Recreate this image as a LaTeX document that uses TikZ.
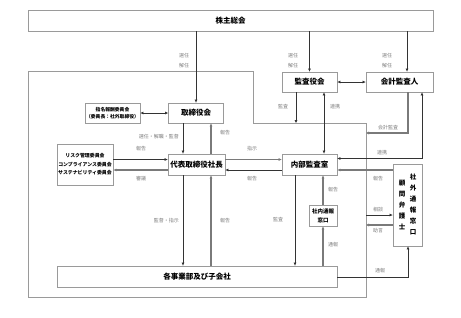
\documentclass[tikz,border=0pt]{standalone}
\usepackage{fontspec}
\setmainfont{Noto Sans CJK JP}
\usetikzlibrary{arrows.meta}
\definecolor{boxc}{HTML}{9A9A9A}
\definecolor{dark}{HTML}{333333}
\definecolor{grayl}{HTML}{7A7A7A}
\definecolor{lab}{HTML}{808080}
\tikzset{
  box/.style={draw=boxc, line width=0.8pt, fill=white, inner sep=0pt, font=\bfseries\fontsize{7.5}{9}\selectfont},
  sbox/.style={box, font=\bfseries\fontsize{4.8}{7}\selectfont, align=center},
  arr/.style={draw=dark, line width=0.8pt, -{Triangle[length=3pt,width=2.6pt]}},
  darr/.style={draw=dark, line width=0.8pt, {Triangle[length=3pt,width=2.6pt]}-{Triangle[length=3pt,width=2.6pt]}},
  garr/.style={draw=grayl, line width=1.1pt, -{Triangle[length=3pt,width=2.6pt]}},
  lbl/.style={text=lab, font=\fontsize{5}{6}\selectfont, inner sep=0pt},
}
\begin{document}
\begin{tikzpicture}[x=1pt,y=-1pt]
\useasboundingbox (0,0) rectangle (461,317);
\fill[white] (0,0) rectangle (461,317);
% executive frame
\draw[boxc, line width=0.8pt] (28,71) -- (253,71) -- (253,123) -- (366,123) -- (366,297) -- (28,297) -- cycle;
\coordinate (fr) at (366,123);
% nodes
\node[box, minimum width=405pt, minimum height=21pt] (kabu) at (230.5,20.5) {株主総会};
\node[box, minimum width=55pt, minimum height=20pt] (kansa) at (309.5,82) {監査役会};
\node[box, minimum width=67pt, minimum height=20pt] (kaikei) at (399.5,82) {会計監査人};
\node[box, minimum width=55pt, minimum height=20pt] (tori) at (196,113) {取締役会};
\node[sbox, minimum width=55pt, minimum height=20pt] (shimei) at (112.5,113) {指名報酬委員会\\（委員長：社外取締役）};
\node[box, minimum width=57pt, minimum height=21pt] (daihyo) at (196.5,164.5) {代表取締役社長};
\node[sbox, minimum width=56pt, minimum height=41pt, font=\bfseries\fontsize{4.9}{8.5}\selectfont] (risk) at (85,164.5) {リスク管理委員会\\コンプライアンス委員会\\サステナビリティ委員会};
\node[box, minimum width=55pt, minimum height=21pt] (naibu) at (309.5,164.5) {内部監査室};
\node[box, minimum width=29pt, minimum height=82pt] (shagai) at (407.5,205) {};
\node[font=\bfseries\fontsize{6.5}{11}\selectfont, align=center, inner sep=0pt] (shagaiA) at (413,204.5) {社\\外\\通\\報\\窓\\口};
\node[font=\bfseries\fontsize{6.5}{11}\selectfont, align=center, inner sep=0pt] (shagaiB) at (402,205) {顧\\問\\弁\\護\\士};
\node[sbox, minimum width=28pt, minimum height=21pt, font=\bfseries\fontsize{5.5}{9}\selectfont] (shanai) at (323,215.5) {社内通報\\窓口};
\node[box, minimum width=280pt, minimum height=21pt] (kaku) at (197,276.5) {各事業部及び子会社};
% helper coordinates
\coordinate (xA) at (183,0);
\coordinate (xB) at (211,0);
\coordinate (xC) at (407,0);
\coordinate (xD) at (296,0);
\coordinate (xE) at (324,0);
\coordinate (xF) at (408,0);
\coordinate (xG) at (422,0);
\coordinate (xH) at (295,0);
\coordinate (xI) at (323,0);
\coordinate (yA) at (0,159.5);
\coordinate (yB) at (0,170);
\coordinate (yC) at (0,133);
\coordinate (yD) at (0,158.5);
\coordinate (yE) at (0,215);
\coordinate (yF) at (0,225);
\coordinate (yG) at (0,277);
\coordinate (c1) at (xF |- yC);
\coordinate (c2) at (xG |- yD);
\coordinate (c3) at (xF |- yG);
% arrows from shareholders
\draw[arr] (tori.north |- kabu.south) -- (tori.north);
\draw[arr] (kansa.north |- kabu.south) -- (kansa.north);
\draw[arr] (xC |- kabu.south) -- (xC |- kaikei.north);
\node[lbl] at (184,56) {選任};
\node[lbl] at (184,66) {解任};
\node[lbl] at (293,56) {選任};
\node[lbl] at (293,66) {解任};
\node[lbl] at (387,56) {選任};
\node[lbl] at (387,66) {解任};
% auditors
\draw[darr] (kansa.east) -- (kaikei.west);
\draw[arr] (xD |- kansa.south) -- (xD |- fr);
\node[lbl] at (283,107) {監査};
\draw[darr] (xE |- kansa.south) -- (xE |- naibu.north);
\node[lbl] at (335,107) {連携};
\draw[garr] (xF |- kaikei.south) -- (c1) -- (fr |- c1);
\node[lbl] at (388,128) {会計監査};
\draw[darr] (naibu.east |- yD) -- (c2) -- (xG |- kaikei.south);
\node[lbl] at (382,153) {連携};
% board
\draw[darr] (shimei.east) -- (tori.west);
\draw[arr] (xA |- tori.south) -- (xA |- daihyo.north);
\node[lbl, anchor=east] at (179,137) {選任・解職・監督};
\draw[garr] (xB |- daihyo.north) -- (xB |- tori.south);
\node[lbl] at (225,133) {報告};
% committees
\draw[arr] (risk.east |- yA) -- (daihyo.west |- yA);
\node[lbl] at (141,149) {報告};
\draw[garr] (daihyo.west |- yB) -- (risk.east |- yB);
\node[lbl] at (141,178.5) {審議};
% president <-> internal audit
\draw[garr] (daihyo.east |- yA) -- (naibu.west |- yA);
\node[lbl] at (252,148.5) {指示};
\draw[arr] (naibu.west |- yB) -- (daihyo.east |- yB);
\node[lbl] at (252,179) {報告};
% president <-> divisions
\draw[arr] (xA |- daihyo.south) -- (xA |- kaku.north);
\node[lbl, anchor=east] at (179,221) {監督・指示};
\draw[garr] (xB |- kaku.north) -- (xB |- daihyo.south);
\node[lbl] at (225,221) {報告};
% internal audit <-> divisions
\draw[arr] (xH |- naibu.south) -- (xH |- kaku.north);
\node[lbl] at (278,220) {監査};
\draw[garr] (shanai.north) -- (shanai.north |- naibu.south);
\node[lbl] at (333,190) {報告};
\draw[garr] (xI |- kaku.north) -- (shanai.south);
\node[lbl] at (333,245) {通報};
% external window
\draw[garr] (shagai.west |- yB) -- (naibu.east |- yB);
\node[lbl] at (378,179) {報告};
\draw[arr] (fr |- yE) -- (shagai.west |- yE);
\node[lbl] at (378,210) {相談};
\draw[garr] (shagai.west |- yF) -- (fr |- yF);
\node[lbl] at (378,231) {助言};
\draw[arr] (kaku.east |- yG) -- (c3) -- (xF |- shagai.south);
\node[lbl] at (380,271) {通報};
\end{tikzpicture}
\end{document}
